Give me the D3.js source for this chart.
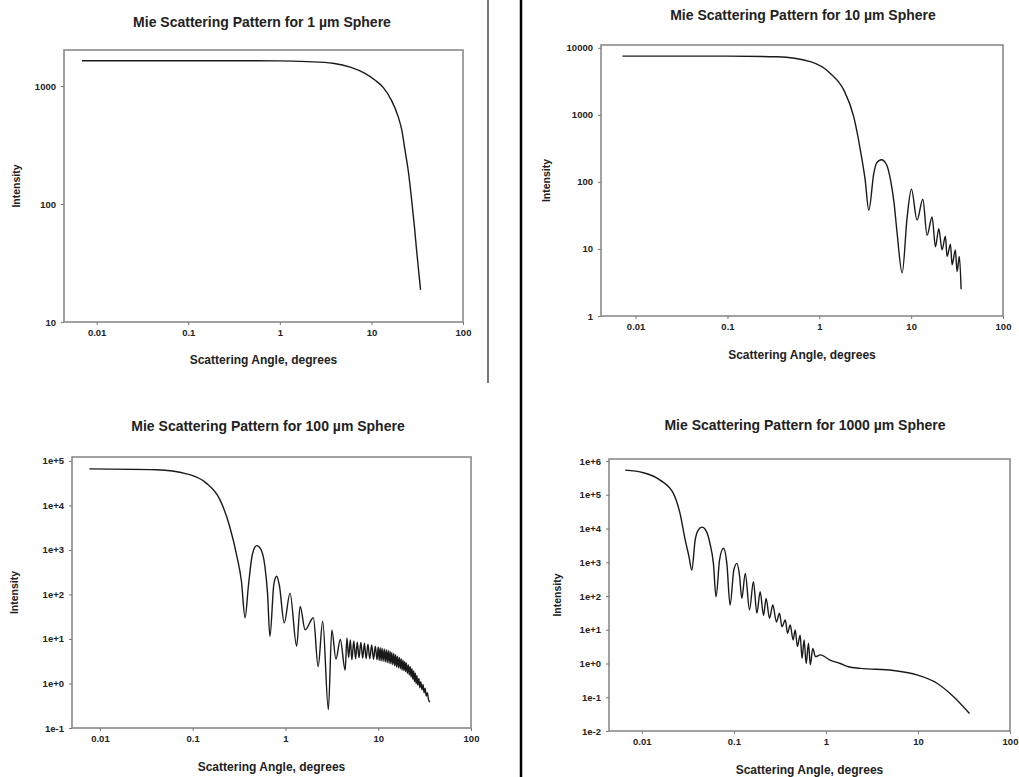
<!DOCTYPE html>
<html>
<head>
<meta charset="utf-8">
<script src="https://cdn.jsdelivr.net/npm/d3@7"></script>
<style>
  body { margin: 0; background: #fff; }
  text { font-family: "Liberation Sans", Arial, sans-serif; fill: #222; }
</style>
</head>
<body>
<div id="chart"></div>
<script>
// Data: [scattering angle (deg), intensity]
const sphere1um = [
    [0.0069, 1640], [0.05, 1640], [0.3, 1640], [1, 1635], [2, 1610], [3.8, 1560],
    [6, 1440], [8.5, 1280], [11, 1120], [13.5, 970], [16.5, 760], [19.6, 550],
    [21.5, 420], [23.2, 290], [25.4, 185], [27.5, 108], [29.4, 66], [31.1, 41],
    [32.8, 27], [34.4, 18.7]
];

const sphere10um = [
    [0.0072, 7500], [0.1, 7500], [0.35, 7350], [0.8, 6200], [1.32, 4150], [1.85, 2340],
    [2.37, 940], [2.8, 298], [3.15, 110], [3.46, 38], [3.92, 134], [4.2, 190],
    [4.75, 214], [5.4, 180], [5.96, 107], [6.5, 50], [7.04, 17], [7.98, 4.4],
    [9.05, 30], [10.07, 78], [11.6, 27], [13.4, 55], [14.9, 16], [16.9, 30],
    [18.4, 10.8], [20, 20], [21.7, 9.7], [23.6, 15.5], [24.6, 7.7], [26.8, 11.8],
    [27.9, 5.8], [30.3, 9.7], [31.6, 4.6], [33.5, 7.7], [35, 2.5]
];

const sphere100um = [
    [0.0077, 66000], [0.041, 63000], [0.086, 51000], [0.14, 31600], [0.197, 13300],
    [0.25, 3400], [0.30, 710], [0.335, 200], [0.367, 30], [0.398, 151], [0.44, 800],
    [0.49, 1250], [0.54, 1050], [0.60, 430], [0.64, 110], [0.68, 11.5], [0.75, 170],
    [0.805, 256], [0.86, 160], [0.97, 23], [1.12, 107], [1.32, 6.9], [1.44, 54],
    [1.63, 16], [2.0, 30], [2.25, 2.4], [2.52, 25], [2.9, 0.26], [3.16, 16], [3.5, 3.5],
    [3.9, 9.7], [4.4, 2.0], [4.6, 10.5], [4.8, 3.8], [5.0, 9.5], [5.2, 3.4], [5.45, 9],
    [5.7, 3.6], [5.95, 8.5], [6.2, 3.8], [6.5, 8.3], [6.8, 3.7], [7.1, 8], [7.4, 3.6],
    [7.75, 7.6], [8.1, 3.6], [8.5, 7.3], [8.9, 3.5], [9.3, 6.9], [9.7, 3.4],
    [10.0, 6.6], [10.25, 3.3], [10.5, 6.4], [10.75, 3.2], [11.0, 6.2], [11.3, 3.15],
    [11.6, 6.0], [11.9, 3.05], [12.2, 5.7], [12.5, 2.95], [12.8, 5.55], [13.1, 2.85],
    [13.4, 5.3], [13.7, 2.75], [14.0, 5.0], [14.35, 2.65], [14.7, 4.7], [15.05, 2.5],
    [15.4, 4.4], [15.75, 2.35], [16.1, 4.1], [16.5, 2.25], [16.9, 3.85], [17.3, 2.15],
    [17.7, 3.6], [18.1, 2.0], [18.5, 3.35], [18.9, 1.95], [19.3, 3.1], [19.7, 1.85],
    [20.1, 2.9], [20.6, 1.7], [21.1, 2.6], [21.6, 1.55], [22.1, 2.4], [22.6, 1.4],
    [23.1, 2.15], [23.6, 1.25], [24.1, 1.9], [24.6, 1.1], [25.1, 1.7], [25.6, 1.0],
    [26.1, 1.5], [26.7, 0.92], [27.4, 1.3], [28.1, 0.8], [28.8, 1.1], [29.6, 0.72],
    [30.4, 0.95], [31.2, 0.62], [32.0, 0.78], [32.9, 0.52], [33.8, 0.62], [34.8, 0.44],
    [36, 0.38]
];

const sphere1000um = [
    [0.0066, 540000], [0.0104, 450000], [0.0158, 273000], [0.022, 110000], [0.026, 28000],
    [0.0296, 4600], [0.0325, 1500], [0.0349, 590], [0.038, 4600], [0.041, 9000],
    [0.045, 11000], [0.05, 8500], [0.055, 3600], [0.06, 900], [0.064, 95], [0.07, 1200],
    [0.077, 2600], [0.084, 900], [0.091, 54], [0.1, 600], [0.108, 930], [0.115, 420],
    [0.122, 85], [0.133, 470], [0.148, 39], [0.163, 265], [0.178, 31], [0.193, 134],
    [0.21, 27], [0.224, 85], [0.244, 22], [0.265, 54], [0.29, 17], [0.313, 31],
    [0.333, 12.3], [0.362, 19.5], [0.383, 7.9], [0.41, 13.8], [0.44, 5], [0.464, 9.8],
    [0.49, 3.2], [0.525, 6.9], [0.55, 1.43], [0.58, 5], [0.61, 1.0], [0.647, 4],
    [0.676, 0.91], [0.72, 2.8], [0.77, 1.6], [0.87, 1.8], [1.11, 1.26], [1.43, 1.0],
    [1.76, 0.8], [2.36, 0.72], [5.4, 0.62], [9.75, 0.46], [16.1, 0.26], [24.4, 0.104],
    [36.3, 0.033]
];

const titles = [
    "Mie Scattering Pattern for 1 \u00b5m Sphere",
    "Mie Scattering Pattern for 10 \u00b5m Sphere",
    "Mie Scattering Pattern for 100 \u00b5m Sphere",
    "Mie Scattering Pattern for 1000 \u00b5m Sphere"
];
const xTicks = [0.01, 0.1, 1, 10, 100];
const yTicks1 = [10, 100, 1000];
const yTicks2 = [1, 10, 100, 1000, 10000];
const yTicks3 = [1e-1, 1e0, 1e1, 1e2, 1e3, 1e4, 1e5];
const yTicks4 = [1e-2, 1e-1, 1e0, 1e1, 1e2, 1e3, 1e4, 1e5, 1e6];
const xLabel = "Scattering Angle, degrees";
const yLabel = "Intensity";

const width = 1019, height = 777;

const svg = d3.select("#chart")
    .append("svg")
    .attr("width", width)
    .attr("height", height);

// exponent style labels used by the two lower plots
const expFormat = d => {
    const e = Math.round(Math.log10(d));
    return "1e" + (e >= 0 ? "+" : "-") + Math.abs(e);
};
const plainFormat = d => String(d);

// layout of each panel (pixels)
const panels = [
    { data: sphere1um, title: titles[0], yTicks: yTicks1, fmt: plainFormat,
      left: 64, right: 463, top: 50, bottom: 322, xMin: 0.0044, yDom: [10, 2020],
      titleX: 262, titleY: 27, xlabY: 364, ylabX: 20 },
    { data: sphere10um, title: titles[1], yTicks: yTicks2, fmt: plainFormat,
      left: 601, right: 1003, top: 45, bottom: 316, xMin: 0.0042, yDom: [1, 11000],
      titleX: 803, titleY: 20, xlabY: 359, ylabX: 550 },
    { data: sphere100um, title: titles[2], yTicks: yTicks3, fmt: expFormat,
      left: 72, right: 471, top: 457, bottom: 728, xMin: 0.005, yDom: [0.1, 1.22e5],
      titleX: 268, titleY: 431, xlabY: 771, ylabX: 18 },
    { data: sphere1000um, title: titles[3], yTicks: yTicks4, fmt: expFormat,
      left: 609, right: 1010, top: 459, bottom: 731, xMin: 0.0044, yDom: [0.01, 1.15e6],
      titleX: 805, titleY: 430, xlabY: 774, ylabX: 561 }
];

panels.forEach(p => {
    const g = svg.append("g");

    const x = d3.scaleLog().domain([p.xMin, 100]).range([p.left, p.right]);
    const y = d3.scaleLog().domain(p.yDom).range([p.bottom, p.top]);

    // frame
    g.append("rect")
        .attr("x", p.left)
        .attr("y", p.top)
        .attr("width", p.right - p.left)
        .attr("height", p.bottom - p.top)
        .attr("fill", "none")
        .attr("stroke", "#8a8a8a")
        .attr("stroke-width", 1.6);

    // x axis
    const xAxis = g.append("g")
        .attr("transform", `translate(0, ${p.bottom})`)
        .call(d3.axisBottom(x).tickValues(xTicks).tickFormat(plainFormat).tickSize(3).tickPadding(4));
    xAxis.select(".domain").remove();

    // y axis
    const yAxis = g.append("g")
        .attr("transform", `translate(${p.left}, 0)`)
        .call(d3.axisLeft(y).tickValues(p.yTicks).tickFormat(p.fmt).tickSize(3).tickPadding(5));
    yAxis.select(".domain").remove();

    g.selectAll(".tick line").attr("stroke", "#777");
    g.selectAll(".tick text")
        .style("font-size", "9.5px")
        .style("font-weight", "bold")
        .attr("fill", "#333");

    // curve
    const line = d3.line()
        .curve(d3.curveMonotoneX)
        .x(d => x(d[0]))
        .y(d => y(d[1]));

    g.append("path")
        .datum(p.data)
        .attr("fill", "none")
        .attr("stroke", "#1a1a1a")
        .attr("stroke-width", 1.4)
        .attr("stroke-linejoin", "round")
        .attr("d", line);

    // title
    g.append("text")
        .attr("x", p.titleX)
        .attr("y", p.titleY)
        .attr("text-anchor", "middle")
        .style("font-size", "14px")
        .style("font-weight", "bold")
        .text(p.title);

    // x axis label
    g.append("text")
        .attr("x", (p.left + p.right) / 2)
        .attr("y", p.xlabY)
        .attr("text-anchor", "middle")
        .style("font-size", "12px")
        .style("font-weight", "bold")
        .text(xLabel);

    // y axis label
    g.append("text")
        .attr("transform", `translate(${p.ylabX}, ${(p.top + p.bottom) / 2}) rotate(-90)`)
        .attr("text-anchor", "middle")
        .style("font-size", "10.5px")
        .style("font-weight", "bold")
        .text(yLabel);
});

// separator lines of the scanned page
svg.append("line")
    .attr("x1", 488).attr("x2", 488)
    .attr("y1", 0).attr("y2", 383)
    .attr("stroke", "#777")
    .attr("stroke-width", 2);

svg.append("line")
    .attr("x1", 521).attr("x2", 521)
    .attr("y1", 0).attr("y2", height)
    .attr("stroke", "#000")
    .attr("stroke-width", 2.5);
</script>
</body>
</html>
